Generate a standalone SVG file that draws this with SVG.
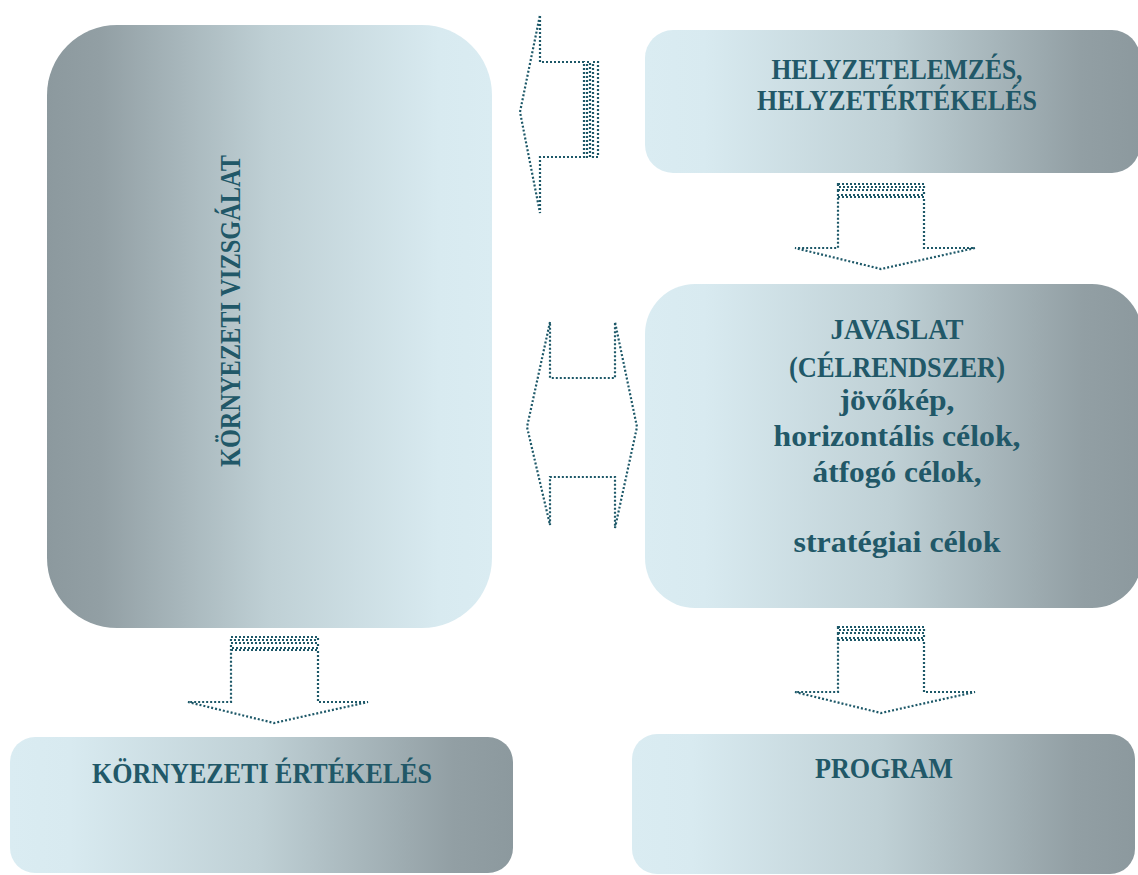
<svg xmlns="http://www.w3.org/2000/svg" width="1138" height="875" viewBox="0 0 1138 875">
<defs>
<linearGradient id="gLD" x1="0" y1="0" x2="1" y2="0">
<stop offset="0" stop-color="#daecf2"/>
<stop offset="0.12" stop-color="#d8eaf0"/>
<stop offset="0.5" stop-color="#bfd0d5"/>
<stop offset="0.88" stop-color="#929fa4"/>
<stop offset="1" stop-color="#8c999e"/>
</linearGradient>
<linearGradient id="gDL" x1="0" y1="0" x2="1" y2="0">
<stop offset="0" stop-color="#8c999e"/>
<stop offset="0.12" stop-color="#929fa4"/>
<stop offset="0.5" stop-color="#bfd0d5"/>
<stop offset="0.88" stop-color="#d8eaf0"/>
<stop offset="1" stop-color="#daecf2"/>
</linearGradient>
</defs>
<style>
.t{font-family:"Liberation Serif","Times New Roman",serif;font-weight:bold;font-size:30px;fill:#215868;text-anchor:middle}
.a{fill:none;stroke:#1d5868;stroke-width:2.2;stroke-dasharray:2 2}
</style>
<rect width="1138" height="875" fill="#ffffff"/>

<g id="node-kornyezeti-vizsgalat">
<rect x="47" y="25" width="445" height="603" rx="70" fill="url(#gDL)"/>
<text class="t" transform="translate(240,311) rotate(-90)" x="0" y="0" textLength="312" lengthAdjust="spacingAndGlyphs">KÖRNYEZETI VIZSGÁLAT</text>
</g>

<g id="node-helyzetelemzes">
<rect x="645" y="30" width="495" height="143" rx="28" fill="url(#gLD)"/>
<text class="t" x="897" y="79" textLength="251" lengthAdjust="spacingAndGlyphs">HELYZETELEMZÉS,</text>
<text class="t" x="897" y="110" textLength="280" lengthAdjust="spacingAndGlyphs">HELYZETÉRTÉKELÉS</text>
</g>

<g id="node-javaslat">
<rect x="645" y="284" width="497" height="324" rx="50" fill="url(#gLD)"/>
<text class="t" x="897" y="339" textLength="133" lengthAdjust="spacingAndGlyphs">JAVASLAT</text>
<text class="t" x="897" y="377" textLength="216" lengthAdjust="spacingAndGlyphs">(CÉLRENDSZER)</text>
<text class="t" x="897" y="410" textLength="115" lengthAdjust="spacingAndGlyphs">jövőkép,</text>
<text class="t" x="897" y="446" textLength="247" lengthAdjust="spacingAndGlyphs">horizontális célok,</text>
<text class="t" x="897" y="482" textLength="169" lengthAdjust="spacingAndGlyphs">átfogó célok,</text>
<text class="t" x="897" y="552" textLength="207" lengthAdjust="spacingAndGlyphs">stratégiai célok</text>
</g>

<g id="node-kornyezeti-ertekeles">
<rect x="10" y="737" width="503" height="136" rx="25" fill="url(#gLD)"/>
<text class="t" x="262" y="783" textLength="340" lengthAdjust="spacingAndGlyphs">KÖRNYEZETI ÉRTÉKELÉS</text>
</g>

<g id="node-program">
<rect x="632" y="734" width="503" height="140" rx="25" fill="url(#gLD)"/>
<text class="t" x="884" y="778" textLength="138" lengthAdjust="spacingAndGlyphs">PROGRAM</text>
</g>

<g id="connectors">
<g id="arrow-helyzet-to-vizsgalat">
<path class="a" d="M584,62 L540,62 L540,15 L520,112 L540,213 L540,157 L584,157 Z"/>
<rect class="a" x="587" y="62" width="3" height="95"/>
<rect class="a" x="593" y="62" width="5" height="95"/>
</g>
<g id="arrow-helyzet-to-javaslat">
<path class="a" d="M838,197 L924,197 L924,248 L975,248 L881,269 L795,248 L838,248 Z"/>
<rect class="a" x="838" y="184" width="86" height="3"/>
<rect class="a" x="838" y="190" width="86" height="5"/>
</g>
<g id="arrow-vizsgalat-javaslat">
<path class="a" d="M550,322 L527,427 L550,525 L550,477 L615,477 L615,528 L637,427 L615,322 L615,378 L550,378 Z"/>
</g>
<g id="arrow-vizsgalat-to-ertekeles">
<path class="a" d="M231,650 L318,650 L318,702 L368,702 L274,723 L188,702 L231,702 Z"/>
<rect class="a" x="231" y="637" width="87" height="3"/>
<rect class="a" x="231" y="643" width="87" height="5"/>
</g>
<g id="arrow-javaslat-to-program">
<path class="a" d="M838,640 L924,640 L924,692 L975,692 L881,713 L795,692 L838,692 Z"/>
<rect class="a" x="838" y="627" width="86" height="3"/>
<rect class="a" x="838" y="633" width="86" height="5"/>
</g>
</g>
</svg>
